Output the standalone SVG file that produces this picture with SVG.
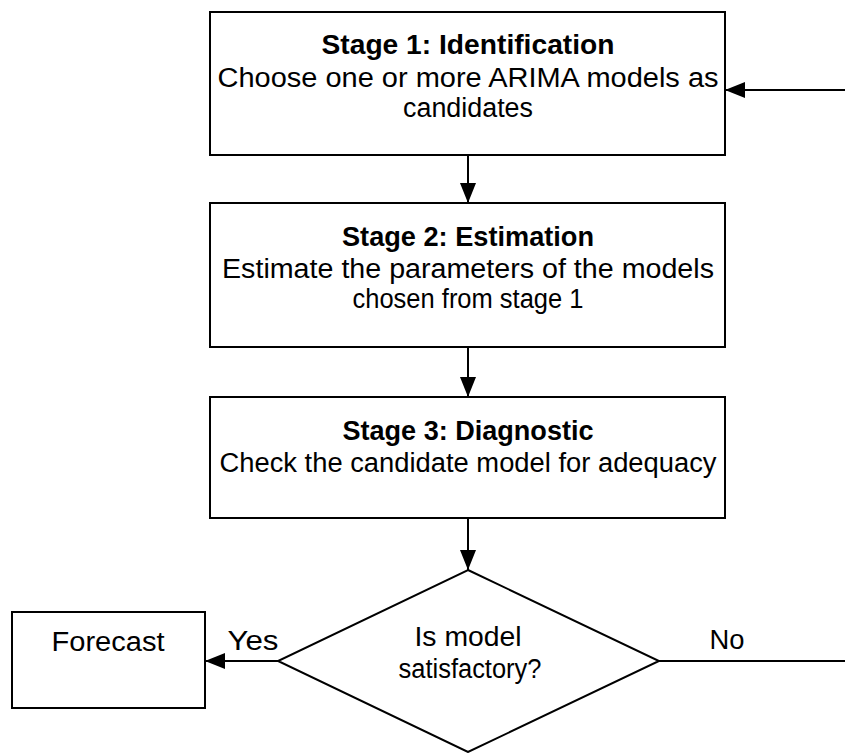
<svg xmlns="http://www.w3.org/2000/svg" width="845" height="753" viewBox="0 0 845 753">
<style>
.box{fill:#fff;stroke:#000;stroke-width:2}
.ln{fill:none;stroke:#000;stroke-width:2}
text{font-family:"Liberation Sans",Arial,sans-serif;font-size:27px;fill:#000;text-anchor:middle}
.b{font-weight:bold}
</style>
<defs>
<marker id="ah" markerUnits="userSpaceOnUse" markerWidth="20" markerHeight="16" viewBox="0 0 20 16" refX="20" refY="8" orient="auto">
<path d="M0,0 L20,8 L0,16 z" fill="#000"/>
</marker>
</defs>
<g id="connectors">
<line class="ln" x1="468" y1="155" x2="468" y2="203" marker-end="url(#ah)"/>
<line class="ln" x1="468" y1="347" x2="468" y2="397" marker-end="url(#ah)"/>
<line class="ln" x1="468" y1="518" x2="468" y2="570" marker-end="url(#ah)"/>
<line class="ln" x1="278" y1="661" x2="205" y2="661" marker-end="url(#ah)"/>
<line class="ln" x1="659" y1="661" x2="845" y2="661"/>
<line class="ln" x1="845" y1="90" x2="725" y2="90" marker-end="url(#ah)"/>
<text x="253" y="650" textLength="51" lengthAdjust="spacingAndGlyphs">Yes</text>
<text x="727" y="649" textLength="35" lengthAdjust="spacingAndGlyphs">No</text>
</g>
<g id="stage1">
<rect class="box" x="210" y="12" width="515" height="143"/>
<text class="b" x="468" y="54" textLength="293" lengthAdjust="spacingAndGlyphs">Stage 1: Identification</text>
<text x="468" y="87" textLength="501" lengthAdjust="spacingAndGlyphs">Choose one or more ARIMA models as</text>
<text x="468" y="117" textLength="130" lengthAdjust="spacingAndGlyphs">candidates</text>
</g>
<g id="stage2">
<rect class="box" x="210" y="203" width="515" height="144"/>
<text class="b" x="468" y="246" textLength="252" lengthAdjust="spacingAndGlyphs">Stage 2: Estimation</text>
<text x="468" y="278" textLength="492" lengthAdjust="spacingAndGlyphs">Estimate the parameters of the models</text>
<text x="468" y="308" textLength="231" lengthAdjust="spacingAndGlyphs">chosen from stage 1</text>
</g>
<g id="stage3">
<rect class="box" x="210" y="397" width="515" height="121"/>
<text class="b" x="468" y="440" textLength="251" lengthAdjust="spacingAndGlyphs">Stage 3: Diagnostic</text>
<text x="468" y="472" textLength="497" lengthAdjust="spacingAndGlyphs">Check the candidate model for adequacy</text>
</g>
<g id="decision">
<polygon class="box" points="468,570 659,661 468,752 278,661"/>
<text x="468" y="646" textLength="107" lengthAdjust="spacingAndGlyphs">Is model</text>
<text x="470" y="678" textLength="143" lengthAdjust="spacingAndGlyphs">satisfactory?</text>
</g>
<g id="forecast">
<rect class="box" x="12" y="612" width="193" height="96"/>
<text x="108" y="651" textLength="113" lengthAdjust="spacingAndGlyphs">Forecast</text>
</g>
</svg>
